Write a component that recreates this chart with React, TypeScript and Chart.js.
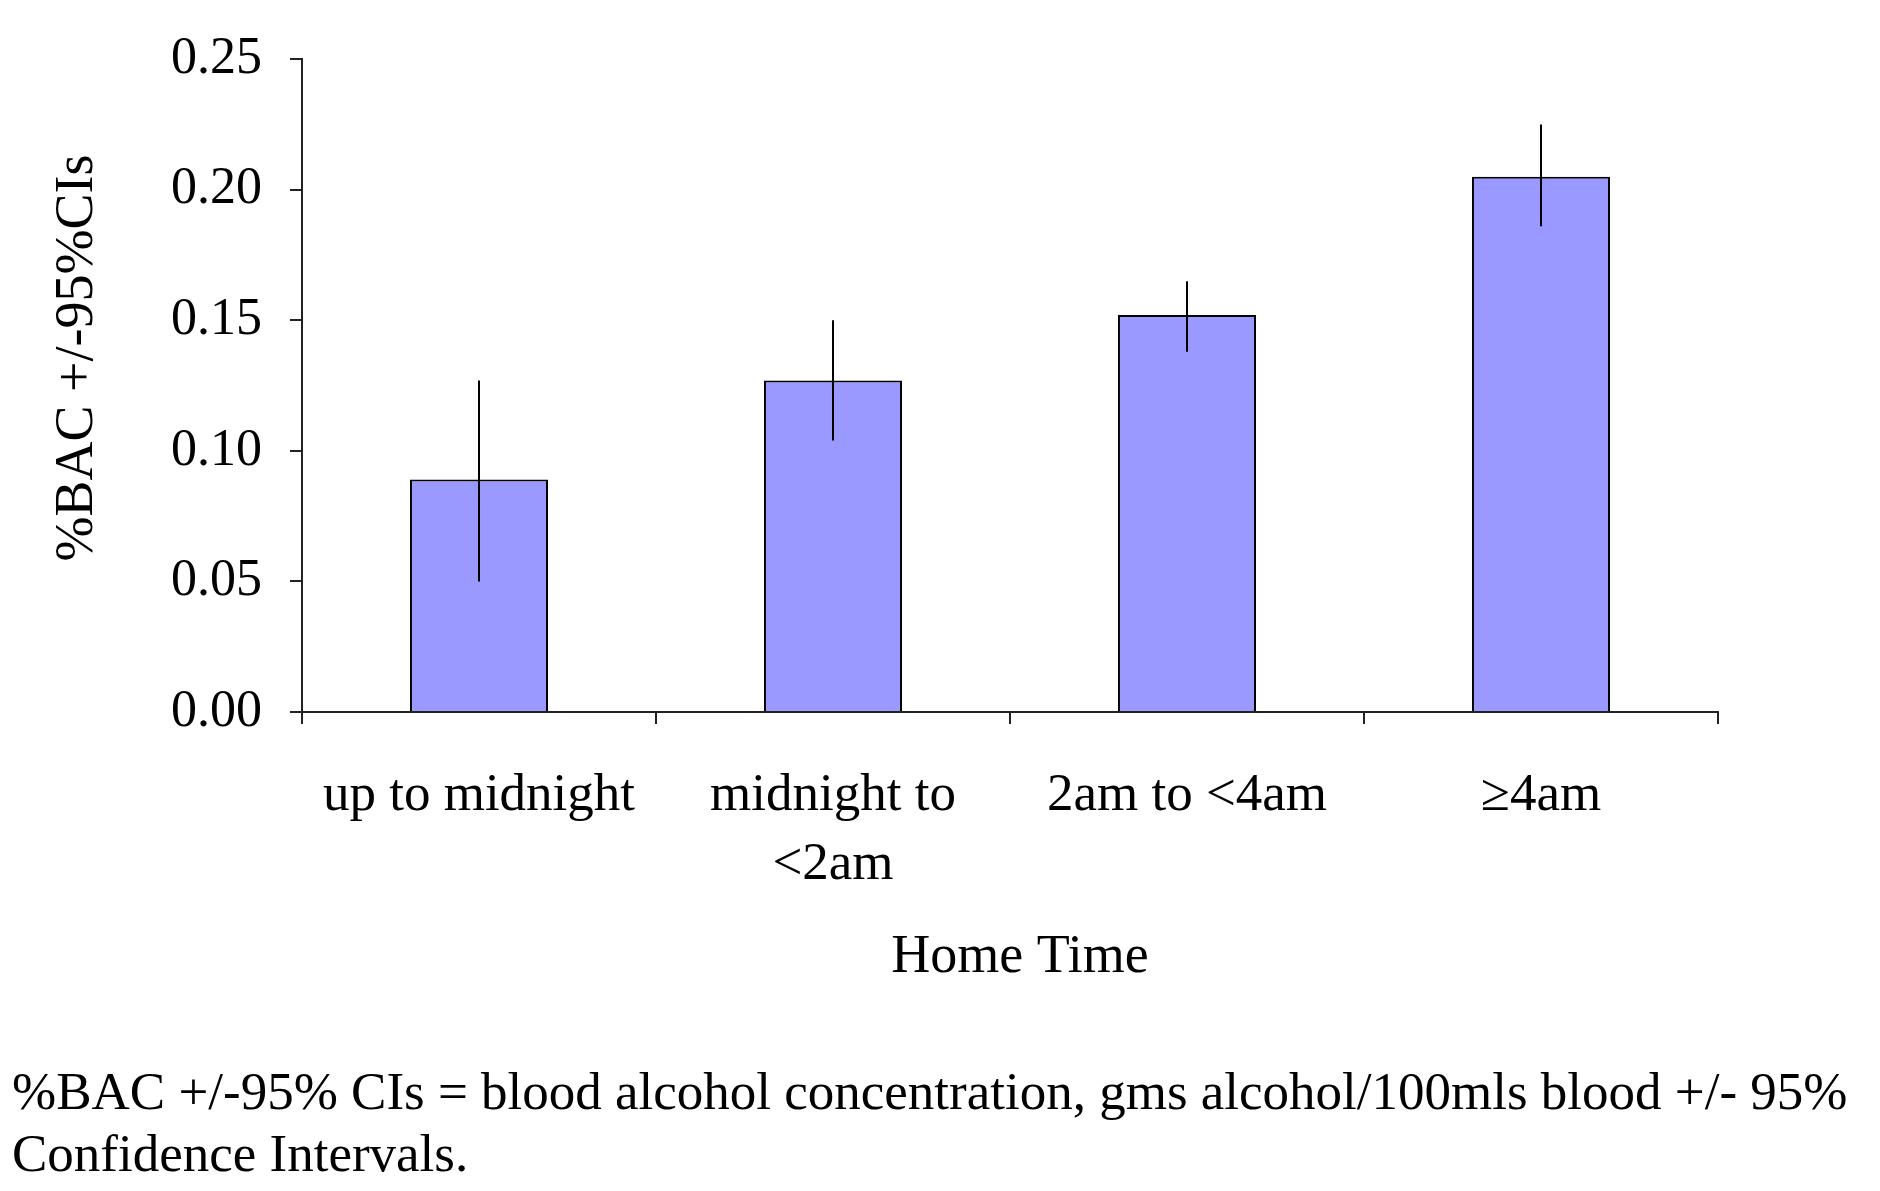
import React, { useEffect, useRef } from "react";
import { Chart, registerables } from "chart.js";
Chart.register(...registerables);

const categories: (string | string[])[] = ["up to midnight", ["midnight to", "<2am"], "2am to <4am", "≥4am"];
const bacValues = [0.089, 0.127, 0.152, 0.205];
const ciLow = [0.05, 0.104, 0.138, 0.186];
const ciHigh = [0.127, 0.15, 0.165, 0.225];
const yTicks = [0, 0.05, 0.1, 0.15, 0.2, 0.25];
const xTitle = "Home Time";
const yTitle = "%BAC +/-95%CIs";
const footnote = ["%BAC +/-95% CIs = blood alcohol concentration, gms alcohol/100mls blood +/- 95%", "Confidence Intervals."];

const FONT = "'Liberation Serif', 'Times New Roman', serif";

export default function App() {
  const ref = useRef<HTMLCanvasElement>(null);
  useEffect(() => {
    const extras = {
      id: "extras",
      afterDatasetsDraw(chart: any) {
        const ctx = chart.ctx;
        const meta = chart.getDatasetMeta(0);
        const y = chart.scales.y;
        ctx.save();
        ctx.strokeStyle = "#000";
        ctx.lineWidth = 2;
        meta.data.forEach((el: any, i: number) => {
          ctx.beginPath();
          ctx.moveTo(el.x, y.getPixelForValue(ciLow[i]));
          ctx.lineTo(el.x, y.getPixelForValue(ciHigh[i]));
          ctx.stroke();
        });
        ctx.restore();
      },
      afterDraw(chart: any) {
        const ctx = chart.ctx;
        const ca = chart.chartArea;
        ctx.save();
        ctx.fillStyle = "#000";
        ctx.font = `54px ${FONT}`;
        ctx.textAlign = "center";
        ctx.textBaseline = "middle";
        ctx.fillText(xTitle, (ca.left + ca.right) / 2 + 10, 958);
        ctx.translate(78, 358);
        ctx.rotate(-Math.PI / 2);
        ctx.fillText(yTitle, 0, 0);
        ctx.restore();
      },
    };
    const chart = new Chart(ref.current!, {
      type: "bar",
      data: {
        labels: categories as any,
        datasets: [{
          data: bacValues,
          backgroundColor: "#9999FF",
          borderColor: "#000",
          borderWidth: 2,
          categoryPercentage: 1,
          barPercentage: 0.39,
        }],
      },
      options: {
        animation: false,
        responsive: false,
        devicePixelRatio: 1,
        layout: { padding: { left: 0, right: 162, top: 31, bottom: 0 } },
        plugins: { legend: { display: false }, tooltip: { enabled: false } },
        scales: {
          x: {
            offset: true,
            grid: { offset: true, drawOnChartArea: false, tickLength: 12, color: "#222", lineWidth: 2 },
            border: { color: "#222", width: 2 },
            ticks: { color: "#000", font: { family: FONT, size: 53, lineHeight: 1.3 }, padding: 38, maxRotation: 0, autoSkip: false },
            afterFit(s: any) { s.height = 479; },
          },
          y: {
            min: 0,
            max: 0.25,
            afterBuildTicks(s: any) { s.ticks = yTicks.map((v) => ({ value: v })); },
            grid: { drawOnChartArea: false, tickLength: 12, color: "#222", lineWidth: 2 },
            border: { color: "#222", width: 2 },
            ticks: { color: "#000", font: { family: FONT, size: 52 }, padding: 28, callback: (v: any) => Number(v).toFixed(2) },
            afterFit(s: any) { s.width = 302; },
          },
        },
      },
      plugins: [extras],
    });
    return () => chart.destroy();
  }, []);
  return (
    <div style={{ position: "absolute", left: 0, top: 0, width: 1880, height: 1191, background: "#fff" }}>
      <canvas ref={ref} width={1880} height={1191} style={{ display: "block" }} />
      <div style={{ position: "absolute", left: 12, top: 1060, fontFamily: FONT, fontSize: 53, lineHeight: "62px", color: "#000", whiteSpace: "nowrap" }}>
        {footnote.map((l, i) => <div key={i}>{l}</div>)}
      </div>
    </div>
  );
}
